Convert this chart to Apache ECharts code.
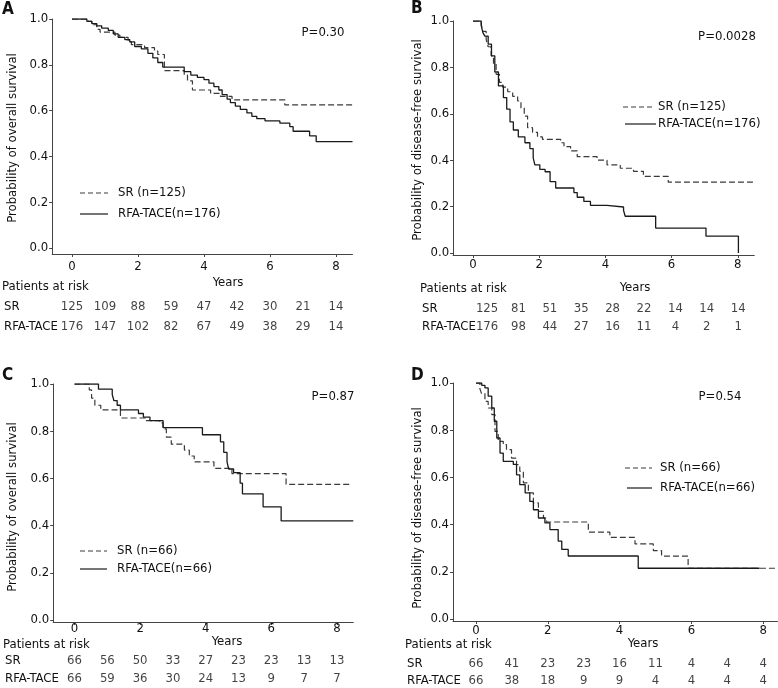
<!DOCTYPE html>
<html><head><meta charset="utf-8">
<script src="https://cdn.jsdelivr.net/npm/echarts@6/dist/echarts.min.js"></script>
<style>html,body{margin:0;padding:0;background:#fff}#c{width:778px;height:688px}</style>
</head><body><div id="c"></div>
<script>
// ---------- data ----------
const years = [0,1,2,3,4,5,6,7,8];
const xTicks = [0,2,4,6,8];
const yTicks = [0,0.2,0.4,0.6,0.8,1.0];
const groupNames = ['SR','RFA-TACE'];
const legendA = ['SR (n=125)','RFA-TACE(n=176)'];
const legendC = ['SR (n=66)','RFA-TACE(n=66)'];
const pValues = ['P=0.30','P=0.0028','P=0.87','P=0.54'];
const yTitles = ['Probability of overall survival','Probability of disease-free survival','Probability of overall survival','Probability of disease-free survival'];

const riskA_SR  = [125,109,88,59,47,42,30,21,14];
const riskA_RFA = [176,147,102,82,67,49,38,29,14];
const riskB_SR  = [125,81,51,35,28,22,14,14,14];
const riskB_RFA = [176,98,44,27,16,11,4,2,1];
const riskC_SR  = [66,56,50,33,27,23,23,13,13];
const riskC_RFA = [66,59,36,30,24,13,9,7,7];
const riskD_SR  = [66,41,23,23,16,11,4,4,4];
const riskD_RFA = [66,38,18,9,9,4,4,4,4];

const kmA_SR = [[0,1],[0.5,0.99],[0.6,0.975],[0.75,0.955],[0.85,0.943],[1.3,0.93],[1.45,0.92],[1.7,0.9],[1.8,0.888],[2.2,0.875],[2.5,0.86],[2.6,0.845],[2.8,0.775],[3.4,0.755],[3.5,0.73],[3.65,0.69],[4.2,0.675],[4.5,0.662],[4.85,0.647],[6.45,0.625],[8.5,0.625]];
const kmA_RFA = [[0,1],[0.45,0.99],[0.6,0.98],[0.75,0.97],[0.9,0.96],[1.1,0.95],[1.25,0.935],[1.4,0.92],[1.6,0.91],[1.75,0.9],[1.9,0.88],[2.1,0.87],[2.3,0.85],[2.45,0.83],[2.6,0.81],[2.75,0.79],[3.4,0.77],[3.6,0.755],[3.8,0.745],[4.0,0.735],[4.15,0.72],[4.3,0.705],[4.45,0.69],[4.55,0.67],[4.7,0.65],[4.8,0.635],[4.95,0.62],[5.1,0.605],[5.3,0.59],[5.45,0.575],[5.6,0.565],[5.85,0.555],[6.3,0.545],[6.6,0.53],[6.7,0.51],[7.2,0.49],[7.4,0.465],[8.5,0.465]];
const kmB_SR = [[0,1],[0.25,0.985],[0.3,0.955],[0.4,0.92],[0.46,0.889],[0.55,0.85],[0.62,0.815],[0.7,0.77],[0.8,0.735],[0.9,0.715],[1.05,0.695],[1.2,0.675],[1.35,0.655],[1.45,0.625],[1.55,0.59],[1.65,0.54],[1.8,0.52],[1.95,0.5],[2.1,0.49],[2.65,0.475],[2.75,0.458],[2.95,0.44],[3.15,0.415],[3.75,0.4],[4.05,0.38],[4.45,0.365],[4.85,0.352],[5.15,0.33],[5.9,0.305],[8.5,0.305]];
const kmB_RFA = [[0,1],[0.25,0.98],[0.3,0.95],[0.36,0.935],[0.46,0.9],[0.56,0.85],[0.66,0.78],[0.77,0.72],[0.92,0.67],[1.02,0.62],[1.12,0.565],[1.22,0.53],[1.37,0.5],[1.57,0.475],[1.72,0.45],[1.82,0.41],[1.87,0.38],[2.02,0.36],[2.18,0.35],[2.33,0.307],[2.5,0.28],[3.05,0.26],[3.15,0.24],[3.35,0.222],[3.55,0.205],[4.05,0.198],[4.55,0.183],[4.6,0.158],[5.52,0.107],[7.04,0.072],[8.02,0.0]];
const kmC_SR = [[0,1],[0.45,0.975],[0.52,0.94],[0.62,0.91],[0.8,0.89],[1.4,0.856],[2.15,0.845],[2.6,0.835],[2.7,0.81],[2.8,0.775],[2.95,0.745],[3.35,0.72],[3.5,0.695],[3.65,0.67],[4.25,0.643],[4.8,0.62],[6.45,0.575],[8.4,0.575]];
const kmC_RFA = [[0,1],[0.73,0.978],[1.15,0.955],[1.2,0.93],[1.3,0.91],[1.4,0.89],[1.95,0.875],[2.1,0.86],[2.3,0.845],[2.7,0.815],[3.9,0.785],[4.45,0.755],[4.55,0.71],[4.65,0.67],[4.7,0.64],[4.85,0.625],[5.05,0.58],[5.12,0.535],[5.75,0.48],[6.3,0.42],[8.5,0.42]];
const kmD_SR = [[0,1],[0.11,0.975],[0.15,0.957],[0.25,0.922],[0.34,0.894],[0.44,0.866],[0.53,0.795],[0.62,0.753],[0.76,0.739],[0.85,0.718],[0.99,0.682],[1.13,0.654],[1.22,0.626],[1.32,0.577],[1.46,0.534],[1.6,0.492],[1.74,0.456],[1.88,0.428],[1.97,0.411],[3.13,0.368],[3.73,0.346],[4.43,0.318],[4.94,0.29],[5.17,0.266],[5.91,0.215],[8.35,0.215]];
const kmD_RFA = [[0,1],[0.16,0.99],[0.25,0.979],[0.34,0.944],[0.44,0.894],[0.51,0.838],[0.58,0.767],[0.67,0.703],[0.76,0.668],[1.04,0.655],[1.13,0.611],[1.22,0.569],[1.37,0.534],[1.5,0.498],[1.6,0.463],[1.74,0.428],[1.92,0.407],[2.06,0.379],[2.29,0.33],[2.39,0.295],[2.57,0.267],[4.52,0.215],[7.9,0.215]];

// ---------- layout (positions / styles) ----------
const FONT = "'DejaVu Sans Condensed','Liberation Sans Narrow',sans-serif";
const FS = 13;
const INK = '#111';
const AX = '#444';
const panels = [
  {letter:'A', km:[kmA_SR,kmA_RFA], risk:[riskA_SR,riskA_RFA], legend:legendA,
   grid:{left:52.2,top:19,width:300.3,height:235}, xMin:-0.6,xMax:8.5,yMin:-0.026, xMargin:6,
   riskGrid:{left:52.2,top:307,width:300.3,height:20},
   letterPos:[2,10], pPos:[323,33], titlePos:[13,138], yearsPos:[228,283],
   patPos:[2,287], rowPos:[[4,307],[4,327]], legPos:[[80,108,193],[80,108,214]], legText:118},
  {letter:'B', km:[kmB_SR,kmB_RFA], risk:[riskB_SR,riskB_RFA], legend:legendA,
   grid:{left:453.1,top:21,width:301.2,height:234}, xMin:-0.6,xMax:8.5,yMin:-0.009, xMargin:3,
   riskGrid:{left:468.2,top:309,width:285.7,height:18},
   letterPos:[411,9], pPos:[727,37], titlePos:[418,140], yearsPos:[635,288],
   patPos:[420,289], rowPos:[[422,309],[422,327]], legPos:[[623,653,107],[625,656,124]], legText:658},
  {letter:'C', km:[kmC_SR,kmC_RFA], risk:[riskC_SR,riskC_RFA], legend:legendC,
   grid:{left:53.2,top:384,width:300.1,height:238}, xMin:-0.65,xMax:8.5,yMin:-0.008, xMargin:0,
   riskGrid:{left:53.2,top:661,width:300.1,height:18},
   letterPos:[2,376], pPos:[333,397], titlePos:[13,507], yearsPos:[227,642],
   patPos:[3,645], rowPos:[[5,661],[5,679]], legPos:[[80,107,551],[80,107,569]], legText:117},
  {letter:'D', km:[kmD_SR,kmD_RFA], risk:[riskD_SR,riskD_RFA], legend:legendC,
   grid:{left:453.0,top:383,width:324.5,height:238}, xMin:-0.64,xMax:8.4,yMin:-0.0085, xMargin:3,
   riskGrid:{left:453.0,top:664,width:324.5,height:17},
   letterPos:[411,376], pPos:[720,397], titlePos:[418,508], yearsPos:[643,644],
   patPos:[405,645], rowPos:[[407,664],[407,681]], legPos:[[625,652,468],[627,652,488]], legText:660}
];
const lineStyles = [
  {color:'#3a3a3a', width:1.2, type:[6,3]},
  {color:'#1a1a1a', width:1.3, type:'solid'}
];

const grid=[], xAxis=[], yAxis=[], series=[], graphic=[];
panels.forEach((p,i)=>{
  const gi = grid.length;
  grid.push(Object.assign({containLabel:false}, p.grid));
  xAxis.push({type:'value', gridIndex:gi, min:p.xMin, max:p.xMax,
    splitLine:{show:false},
    axisLine:{show:true,onZero:false,lineStyle:{color:AX,width:1}},
    axisTick:{show:true,length:3,customValues:xTicks,lineStyle:{color:AX}},
    axisLabel:{customValues:xTicks,margin:p.xMargin,color:INK,fontFamily:FONT,fontSize:FS}});
  yAxis.push({type:'value', gridIndex:gi, min:p.yMin, max:1,
    splitLine:{show:false},
    axisLine:{show:true,onZero:false,lineStyle:{color:AX,width:1}},
    axisTick:{show:true,length:3,customValues:yTicks,lineStyle:{color:AX}},
    axisLabel:{customValues:yTicks,margin:4,color:INK,fontFamily:FONT,fontSize:FS,
      formatter:v=>v.toFixed(1)}});
  p.km.forEach((d,k)=>{
    series.push({type:'line', name:p.legend[k], xAxisIndex:gi, yAxisIndex:gi, data:d,
      step:'end', showSymbol:false, symbol:'none', silent:true, animation:false,
      lineStyle:lineStyles[k]});
  });
  // risk table grid
  const ri = grid.length;
  grid.push(Object.assign({}, p.riskGrid));
  xAxis.push({type:'value', gridIndex:ri, min:p.xMin, max:p.xMax, show:false});
  yAxis.push({type:'value', gridIndex:ri, min:0, max:1, inverse:true, show:false});
  p.risk.forEach((arr,k)=>{
    series.push({type:'scatter', xAxisIndex:ri, yAxisIndex:ri, symbolSize:1,
      itemStyle:{color:'rgba(0,0,0,0)'}, silent:true, animation:false,
      data:years.map((t,j)=>[t,k,arr[j]]),
      label:{show:true, position:'inside', formatter:q=>String(q.value[2]),
        color:INK, fontFamily:FONT, fontSize:FS}});
  });
  // texts
  const txt = (x,y,s,extra)=>graphic.push({type:'text', x, y, silent:true,
    style:Object.assign({text:s, fill:INK, font:FS+'px '+FONT, verticalAlign:'middle'}, extra||{})});
  txt(p.letterPos[0], p.letterPos[1], p.letter, {font:'bold 17px '+FONT});
  txt(p.pPos[0], p.pPos[1], pValues[i], {align:'center'});
  graphic.push({type:'text', x:p.titlePos[0], y:p.titlePos[1], rotation:Math.PI/2, silent:true,
    style:{text:yTitles[i], fill:INK, font:FS+'px '+FONT, align:'center', verticalAlign:'middle'}});
  txt(p.yearsPos[0], p.yearsPos[1], 'Years', {align:'center'});
  txt(p.patPos[0], p.patPos[1], 'Patients at risk');
  txt(p.rowPos[0][0], p.rowPos[0][1], groupNames[0]);
  txt(p.rowPos[1][0], p.rowPos[1][1], groupNames[1]);
  p.legPos.forEach((lp,k)=>{
    graphic.push({type:'line', silent:true, shape:{x1:lp[0],y1:lp[2],x2:lp[1],y2:lp[2]},
      style:{stroke:lineStyles[k].color, lineWidth:1.2, lineDash:k===0?[5,3]:null}});
    txt(p.legText, lp[2], p.legend[k]);
  });
});

const chart = echarts.init(document.getElementById('c'), null, {renderer:'canvas'});
chart.setOption({animation:false, backgroundColor:'#fff', grid, xAxis, yAxis, series, graphic});
</script></body></html>
